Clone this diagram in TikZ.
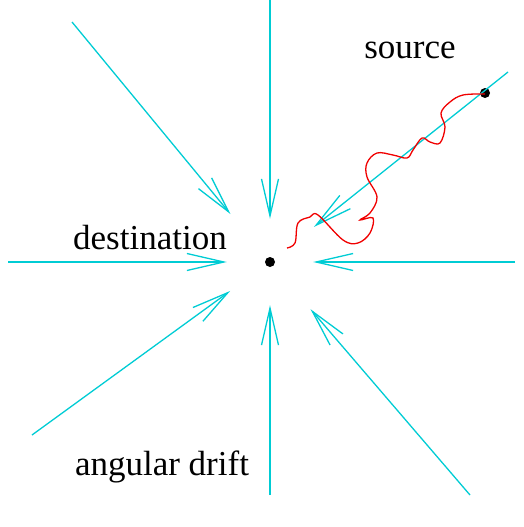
\documentclass[tikz,border=0pt]{standalone}
\usepackage{fontspec}
\setmainfont{Liberation Serif}
\usetikzlibrary{arrows.meta}
\definecolor{raycyan}{RGB}{0,204,212}
\definecolor{walkred}{RGB}{240,0,0}
\tikzset{
  ray/.style={raycyan, line width=1.3pt,
    -{Straight Barb[length=37pt, width=17pt, line width=1.3pt]}},
  wiggle/.style={walkred, line width=1.3pt},
  dot/.style={circle, fill=black, inner sep=0pt, minimum size=10pt},
  lbl/.style={font=\fontsize{35}{40}\selectfont, inner sep=0pt},
}
\begin{document}
\begin{tikzpicture}[x=1pt, y=-1pt]
\useasboundingbox (0,0) rectangle (524,527);

% points
\node[dot] (dest) at (270,262) {};
\node[dot] (src)  at (485,93)  {};

% outer ends of the rays
\coordinate (n)  at (270,0);
\coordinate (s)  at (270,495);
\coordinate (w)  at (8,262);
\coordinate (e)  at (515,262);
\coordinate (nw) at (72,22);
\coordinate (sw) at (32,435);
\coordinate (se) at (470,495);
\coordinate (ne) at (508,72);

% rays towards the destination
\draw[ray, shorten >=38pt] (n)  -- (dest);
\draw[ray, shorten >=38pt] (s)  -- (dest);
\draw[ray, shorten >=38pt] (w)  -- (dest);
\draw[ray, shorten >=38pt] (e)  -- (dest);
\draw[ray, shorten >=57pt] (nw) -- (dest);
\draw[ray, shorten >=44pt] (sw) -- (dest);
\draw[ray, shorten >=57pt] (se) -- (dest);
\draw[ray, shorten >=51pt] (ne) -- (dest);

% random walk from the source
\draw[wiggle] plot[smooth, tension=0.6] coordinates {
  (485,94) (463,95) (450,102) (441,113) (445,127) (440,143) (430,142)
  (422,138) (413,150) (407,158) (393,155) (377,153) (367,163) (367,177)
  (377,197) (370,213) (360,220) (373,218) (370,233) (358,243) (343,240)
  (318,215) (310,217) (298,223) (295,243) (287,248)};

% labels
\node[lbl] (srclbl)   at (410,50)  {source};
\node[lbl] (destlbl)  at (150,238) {destination};
\node[lbl] (driftlbl) at (162,467) {angular drift};

\end{tikzpicture}
\end{document}
